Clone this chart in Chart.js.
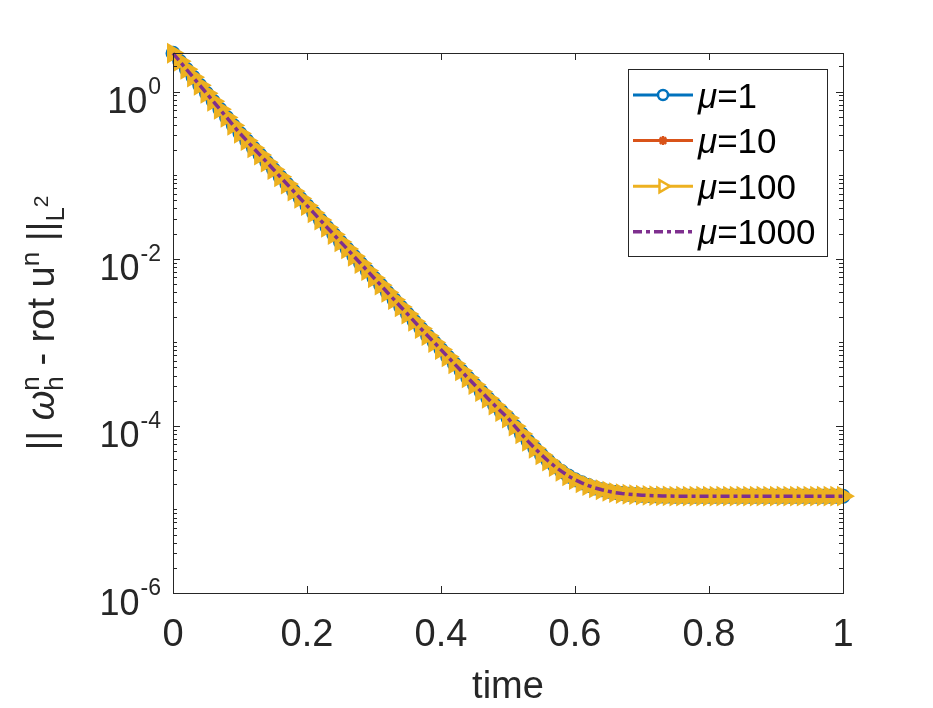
<!DOCTYPE html>
<html>
<head>
<meta charset="utf-8">
<script src="https://cdn.jsdelivr.net/npm/chart.js@4.4.0/dist/chart.umd.min.js"></script>
<style>
  html, body { margin: 0; padding: 0; background: #fff; }
</style>
</head>
<body>
<canvas id="errChart" width="933" height="708"></canvas>
<script>
// time steps (dt = 0.01)
const times = [0,0.01,0.02,0.03,0.04,0.05,0.06,0.07,0.08,0.09,
  0.1,0.11,0.12,0.13,0.14,0.15,0.16,0.17,0.18,0.19,
  0.2,0.21,0.22,0.23,0.24,0.25,0.26,0.27,0.28,0.29,
  0.3,0.31,0.32,0.33,0.34,0.35,0.36,0.37,0.38,0.39,
  0.4,0.41,0.42,0.43,0.44,0.45,0.46,0.47,0.48,0.49,
  0.5,0.51,0.52,0.53,0.54,0.55,0.56,0.57,0.58,0.59,
  0.6,0.61,0.62,0.63,0.64,0.65,0.66,0.67,0.68,0.69,
  0.7,0.71,0.72,0.73,0.74,0.75,0.76,0.77,0.78,0.79,
  0.8,0.81,0.82,0.83,0.84,0.85,0.86,0.87,0.88,0.89,
  0.9,0.91,0.92,0.93,0.94,0.95,0.96,0.97,0.98,0.99,1];

// ||w_h^n - rot u^n||_L2 (all four mu curves coincide)
const errValues = [2.88,2.31,1.85,1.49,1.19,0.955,0.766,0.614,0.492,0.394,
  0.316,0.259,0.212,0.174,0.143,0.117,0.0957,0.0784,0.0643,0.0527,
  0.0432,0.0354,0.0290,0.0237,0.0195,0.0159,0.0131,0.0107,0.00877,0.00719,
  0.00589,0.00483,0.00395,0.00324,0.00265,0.00218,0.00178,0.00146,0.00120,0.000995,
  8.18e-4,6.72e-4,5.54e-4,4.56e-4,3.76e-4,3.11e-4,2.57e-4,2.13e-4,1.77e-4,1.48e-4,
  1.24e-4,9.91e-5,8.01e-5,6.53e-5,5.38e-5,4.49e-5,3.80e-5,3.26e-5,2.85e-5,2.52e-5,
  2.27e-5,2.08e-5,1.93e-5,1.81e-5,1.72e-5,1.65e-5,1.59e-5,1.55e-5,1.52e-5,1.50e-5,
  1.48e-5,1.47e-5,1.46e-5,1.45e-5,1.45e-5,1.44e-5,1.44e-5,1.44e-5,1.44e-5,1.44e-5,
  1.44e-5,1.44e-5,1.44e-5,1.44e-5,1.44e-5,1.44e-5,1.44e-5,1.44e-5,1.44e-5,1.44e-5,
  1.44e-5,1.44e-5,1.44e-5,1.44e-5,1.44e-5,1.44e-5,1.44e-5,1.44e-5,1.44e-5,1.44e-5,1.44e-5];

const muValues = ['1', '10', '100', '1000'];
const xTicks = [0, 0.2, 0.4, 0.6, 0.8, 1];
const xTickLabels = ['0', '0.2', '0.4', '0.6', '0.8', '1'];
const yTickExps = [0, -2, -4, -6];

const FONT = "'Liberation Sans', Arial, sans-serif";
const AXIS_COLOR = '#262626';

function pts(vals) {
  return times.map((t, i) => ({ x: t, y: vals[i] }));
}

// small helper for TeX-like text runs (super/subscripts)
function runWidth(ctx, parts) {
  let w = 0;
  parts.forEach(p => {
    ctx.font = (p.it ? 'italic ' : '') + p.s + 'px ' + FONT;
    w += ctx.measureText(p.t).width;
  });
  return w;
}
function drawRun(ctx, parts, x0, y0) {
  let x = x0;
  parts.forEach(p => {
    ctx.font = (p.it ? 'italic ' : '') + p.s + 'px ' + FONT;
    ctx.fillText(p.t, x, y0 + (p.dy || 0));
    x += ctx.measureText(p.t).width;
  });
}

const axesPlugin = {
  id: 'matlabAxes',
  afterDraw(chart) {
    const ctx = chart.ctx;
    const a = chart.chartArea;
    const xs = chart.scales.x, ys = chart.scales.y;
    ctx.save();
    ctx.strokeStyle = AXIS_COLOR;
    ctx.fillStyle = AXIS_COLOR;
    ctx.lineWidth = 1;

    // tick marks (inward, on all four sides)
    ctx.beginPath();
    xTicks.forEach(v => {
      const px = Math.round(xs.getPixelForValue(v)) + 0.5;
      ctx.moveTo(px, a.bottom); ctx.lineTo(px, a.bottom - 7);
      ctx.moveTo(px, a.top); ctx.lineTo(px, a.top + 7);
    });
    for (let e = -6; e <= 0; e++) {
      for (let m = 1; m <= 9; m++) {
        const v = m * Math.pow(10, e);
        if (v > ys.max) break;
        const py = Math.round(ys.getPixelForValue(v)) + 0.5;
        const len = (m === 1 && yTickExps.includes(e)) ? 7 : 4;
        ctx.moveTo(a.left, py); ctx.lineTo(a.left + len, py);
        ctx.moveTo(a.right, py); ctx.lineTo(a.right - len, py);
      }
    }
    ctx.stroke();
    ctx.strokeRect(Math.round(a.left) + 0.5, Math.round(a.top) + 0.5,
      Math.round(a.right - a.left), Math.round(a.bottom - a.top));

    // x tick labels
    ctx.font = '38px ' + FONT;
    ctx.textAlign = 'center';
    ctx.textBaseline = 'alphabetic';
    xTicks.forEach((v, i) => {
      ctx.fillText(xTickLabels[i], xs.getPixelForValue(v), 646);
    });
    ctx.fillText('time', (a.left + a.right) / 2, 698);

    // y tick labels 10^k
    ctx.textAlign = 'right';
    yTickExps.forEach(e => {
      const py = ys.getPixelForValue(Math.pow(10, e));
      ctx.font = '23px ' + FONT;
      const expTxt = String(e);
      ctx.fillText(expTxt, 161, py + 2);
      const ew = ctx.measureText(expTxt).width;
      ctx.font = '36px ' + FONT;
      ctx.fillText('10', 161 - ew - 1, py + 21.5);
    });

    // y axis title: || w_h^n - rot u^n ||_{L^2}
    ctx.textAlign = 'left';
    const label = [
      { t: '|| ', s: 38 },
      { t: '\u03c9', s: 38, it: true },
      { t: 'n', s: 26, dy: -15 },
      { t: ' - rot u', s: 38 },
      { t: 'n', s: 26, dy: -15 },
      { t: ' ||', s: 38 },
      { t: 'L', s: 26, dy: 10 },
      { t: '2', s: 21, dy: -6 }
    ];
    const lw = runWidth(ctx, label);
    ctx.save();
    ctx.translate(54, (a.top + a.bottom) / 2);
    ctx.rotate(-Math.PI / 2);
    drawRun(ctx, label, -lw / 2, 0);
    // subscript h under the superscript n of omega
    ctx.font = '38px ' + FONT;
    const w1 = ctx.measureText('|| ').width;
    ctx.font = 'italic 38px ' + FONT;
    const w2 = ctx.measureText('\u03c9').width;
    ctx.font = '26px ' + FONT;
    ctx.fillText('h', -lw / 2 + w1 + w2, 9);
    ctx.restore();

    // legend
    const lx = 628.5, ly = 69.5, lwBox = 199, lhBox = 187;
    ctx.fillStyle = '#fff';
    ctx.fillRect(lx, ly, lwBox, lhBox);
    ctx.strokeStyle = AXIS_COLOR;
    ctx.lineWidth = 1;
    ctx.strokeRect(lx, ly, lwBox, lhBox);
    chart.data.datasets.forEach((ds, i) => {
      const ry = 95 + 45.6 * i;
      ctx.save();
      ctx.strokeStyle = ds.borderColor;
      ctx.lineWidth = ds.borderWidth;
      ctx.setLineDash(ds.borderDash || []);
      ctx.beginPath();
      ctx.moveTo(633, ry); ctx.lineTo(693, ry);
      ctx.stroke();
      ctx.setLineDash([]);
      if (ds.pointRadius > 0) {
        ctx.fillStyle = '#fff';
        ctx.strokeStyle = ds.pointBorderColor;
        ctx.lineWidth = 2.5;
        Chart.helpers.drawPoint(ctx, {
          pointStyle: ds.pointStyle,
          radius: ds.legendRadius,
          rotation: ds.pointRotation || 0,
          borderWidth: 2.5
        }, 663, ry);
      }
      ctx.restore();
      ctx.fillStyle = '#000';
      ctx.textAlign = 'left';
      drawRun(ctx, [
        { t: '\u03bc', s: 35, it: true },
        { t: '=' + muValues[i], s: 35 }
      ], 698, ry + 12.5);
    });
    ctx.restore();
  }
};

const blue = '#0072BD', orange = '#D95319', yellow = '#EDB120', purple = '#7E2F8E';

new Chart(document.getElementById('errChart'), {
  type: 'line',
  data: {
    datasets: [
      {
        label: '\u03bc=' + muValues[0],
        data: pts(errValues),
        borderColor: blue, borderWidth: 3,
        pointStyle: 'circle', pointRadius: 6.5, legendRadius: 5,
        pointBorderColor: blue, pointBackgroundColor: blue, pointBorderWidth: 2,
        order: 4, clip: false
      },
      {
        label: '\u03bc=' + muValues[1],
        data: pts(errValues),
        borderColor: orange, borderWidth: 3,
        pointStyle: 'star', pointRadius: 6, legendRadius: 4.5,
        pointBorderColor: orange, pointBackgroundColor: orange, pointBorderWidth: 2,
        order: 3, clip: false
      },
      {
        label: '\u03bc=' + muValues[2],
        data: pts(errValues),
        borderColor: yellow, borderWidth: 3,
        pointStyle: 'triangle', pointRotation: 90, pointRadius: 10, legendRadius: 7,
        pointBorderColor: yellow, pointBackgroundColor: yellow, pointBorderWidth: 2,
        order: 2, clip: false
      },
      {
        label: '\u03bc=' + muValues[3],
        data: pts(errValues),
        borderColor: purple, borderWidth: 3.5, borderDash: [9, 4, 4, 4],
        pointRadius: 0,
        order: 1, clip: false
      }
    ]
  },
  options: {
    responsive: false,
    animation: false,
    devicePixelRatio: 1,
    layout: { padding: { top: 53, right: 90, left: 0, bottom: 0 } },
    elements: { line: { tension: 0 } },
    plugins: { legend: { display: false }, tooltip: { enabled: false } },
    scales: {
      x: {
        type: 'linear', min: 0, max: 1,
        ticks: { display: false, stepSize: 0.2 },
        grid: { display: false }, border: { display: false },
        afterFit: s => { s.height = 115; }
      },
      y: {
        type: 'logarithmic', min: 1e-6, max: 2.9,
        ticks: { display: false },
        grid: { display: false }, border: { display: false },
        afterFit: s => { s.width = 173; }
      }
    }
  },
  plugins: [axesPlugin]
});
</script>
</body>
</html>
